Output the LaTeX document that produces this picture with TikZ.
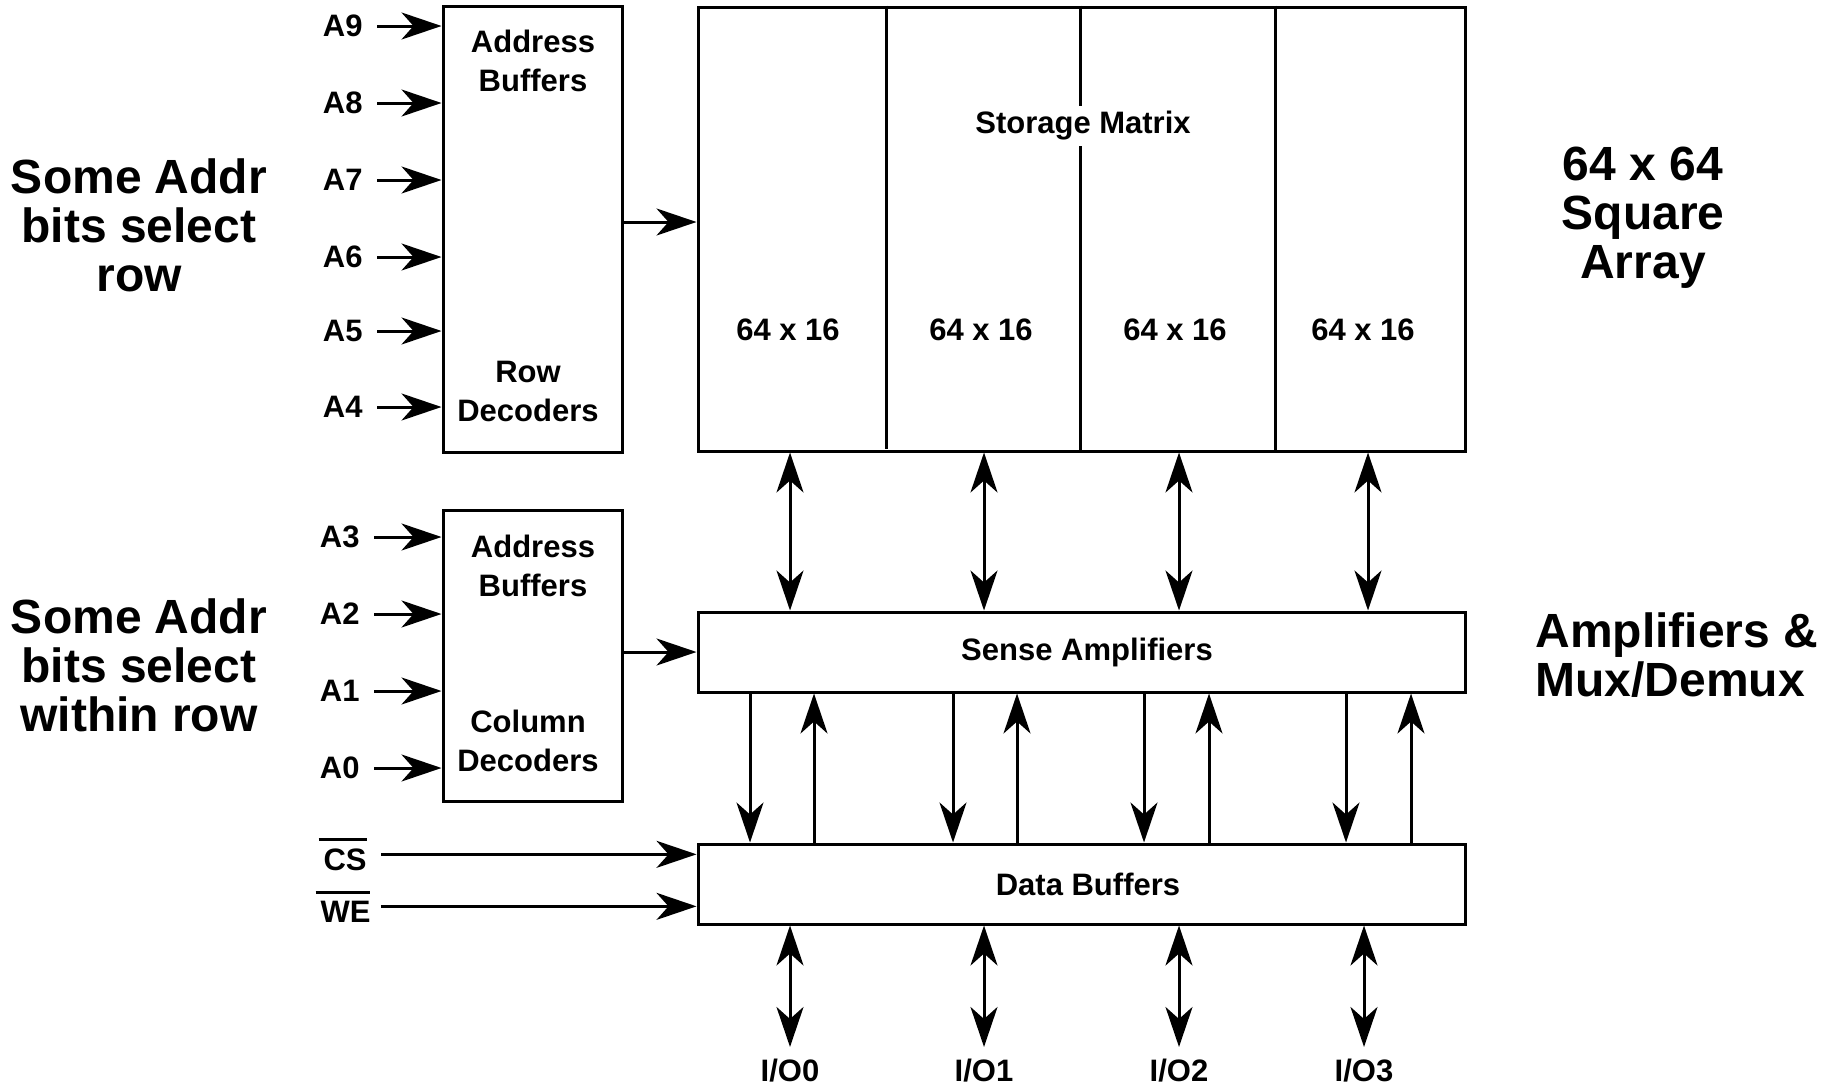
\documentclass[tikz,border=0pt]{standalone}
\usepackage{fontspec}
\setmainfont{Liberation Sans}
\usetikzlibrary{arrows.meta}
\newcommand{\ovl}[1]{\vbox{\hrule height 3pt\kern 7pt\hbox{\kern 5pt #1}}}

\begin{document}
\begin{tikzpicture}[x=1pt, y=-1pt, line width=3pt,
        >={Stealth[length=40pt, width=27pt, inset=12pt]},
        box/.style={draw, inner sep=0pt},
        lbl/.style={font=\fontsize{31}{39}\selectfont\bfseries, inner sep=0pt},
        txt/.style={lbl, align=center},
        big/.style={font=\fontsize{48}{49}\selectfont\bfseries, inner sep=0pt, align=center}]

    \useasboundingbox (0,0) rectangle (1831,1087);

    % decoder boxes
    \node[box, minimum width=179pt, minimum height=446pt] (rowdec) at (532.5,229) {};
    \node[box, minimum width=179pt, minimum height=291pt] (coldec) at (532.5,655.5) {};
    \node[txt] (rowbuf) at (533,61) {Address\\Buffers};
    \node[txt] (rowdc) at (528,391) {Row\\Decoders};
    \node[txt] (colbuf) at (533,566) {Address\\Buffers};
    \node[txt] (coldc) at (528,741) {Column\\Decoders};

    % storage matrix, four parts
    \node[box, minimum width=767pt, minimum height=444pt] (store) at (1081.5,229) {};
    \coordinate (div1) at (886,0);
    \coordinate (div2) at (1080,0);
    \coordinate (div3) at (1275,0);
    \draw[shorten >=4pt] (div1 |- store.north) -- (div1 |- store.south);
    \draw (div2 |- store.north) -- (div2 |- store.south);
    \draw (div3 |- store.north) -- (div3 |- store.south);
    \node[lbl, fill=white, inner sep=5pt] (title) at (1083,126) {Storage Matrix};
    \foreach \x [count=\i] in {788,981,1175,1363}
        \node[lbl] (part\i) at (\x,330) {64 x 16};

    % amplifiers and buffers
    \node[box, minimum width=767pt, minimum height=80pt] (sense) at (1081.5,652) {};
    \node[box, minimum width=767pt, minimum height=80pt] (data) at (1081.5,884) {};
    \node[lbl] (sensetxt) at (1087,652) {Sense Amplifiers};
    \node[lbl] (datatxt) at (1088,884) {Data Buffers};

    % address inputs
    \foreach \n/\y in {9/26,8/103,7/180,6/257,5/331,4/407} {
        \node[lbl, anchor=east] (a\n) at (364,\y) {A\n};
        \draw[->] ([xshift=13pt]a\n.east) -- (a\n -| rowdec.west);
    }
    \foreach \n/\y in {3/537,2/614,1/691,0/768} {
        \node[lbl, anchor=east] (a\n) at (361,\y) {A\n};
        \draw[->] ([xshift=13pt]a\n.east) -- (a\n -| coldec.west);
    }

    % control inputs
    \node[lbl, anchor=base west] (cs) at (317,870) {\ovl{CS}};
    \node[lbl, anchor=base west] (we) at (314,922) {\ovl{WE}};
    \draw[->] ([xshift=13pt]cs.east) -- (cs.east -| data.west);
    \draw[->] ([xshift=9pt]we.east) -- (we.east -| data.west);

    % decoders to array
    \coordinate (rowout) at ([yshift=7pt]rowdec.east);
    \draw[->] (rowout) -- (rowout -| store.west);
    \draw[->] (sense.west -| coldec.east) -- (sense.west);

    % bit lines
    \foreach \x [count=\i] in {790,984,1179,1368} {
        \coordinate (bit\i) at (\x,0);
        \draw[<->] (bit\i |- store.south) -- (bit\i |- sense.north);
    }
    \foreach \d/\u [count=\i] in {750/814,953/1017,1144/1209,1346/1411} {
        \coordinate (dn\i) at (\d,0);
        \coordinate (up\i) at (\u,0);
        \draw[->] (dn\i |- sense.south) -- (dn\i |- data.north);
        \draw[->] (up\i |- data.north) -- (up\i |- sense.south);
    }

    % data pins
    \foreach \x [count=\i from 0] in {790,984,1179,1364} {
        \node[lbl] (io\i) at (\x,1071) {I/O\i};
        \draw[<->] (data.south -| io\i) -- ([yshift=11pt]io\i.north);
    }

    % side notes
    \node[big] (rowsel) at (139,225) {Some Addr\\bits select\\row};
    \node[big] (colsel) at (139,665) {Some Addr\\bits select\\within row};
    \node[big] (size) at (1643,218) {64 x 64\\Square\\Array};
    \node[big, align=left, anchor=west] (mux) at (1534,655) {Amplifiers \&\\Mux/Demux};

\end{tikzpicture}
\end{document}
